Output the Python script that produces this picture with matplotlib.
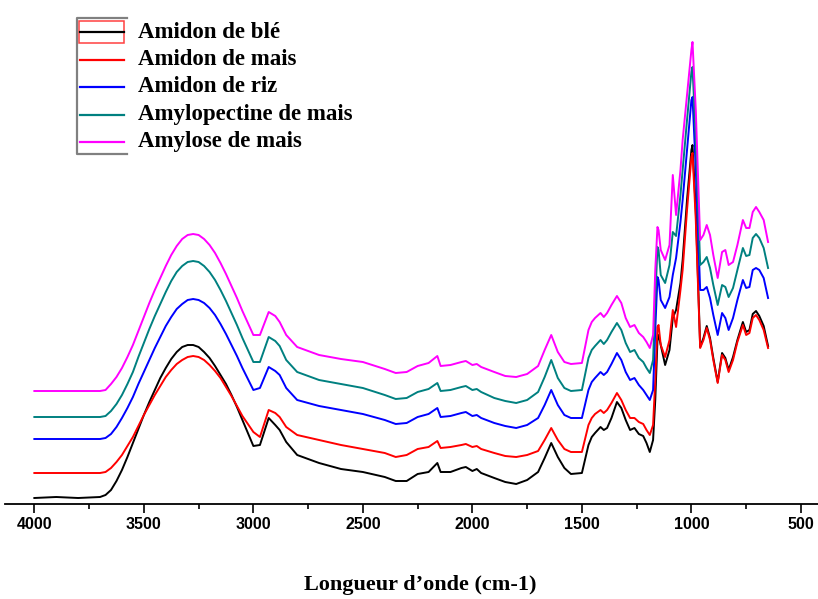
import numpy as np
import matplotlib
matplotlib.use("Agg")
import matplotlib.pyplot as plt
from matplotlib.lines import Line2D
from matplotlib.patches import Rectangle
from matplotlib.ticker import MultipleLocator

# nombre d'onde (cm-1), commun aux 5 spectres
wavenumber = [4000, 3900, 3800,
              3700, 3675, 3650, 3625, 3600, 3575, 3550, 3525, 3500, 3475,
              3450, 3425, 3400, 3375, 3350, 3325, 3300, 3275, 3250, 3225,
              3200, 3175, 3150, 3125, 3100, 3075, 3050, 3025, 3000,
              2970, 2930,
              2900, 2880, 2850, 2800, 2700, 2600, 2500, 2400, 2350, 2300,
              2250, 2200, 2160, 2145, 2100, 2050, 2030, 2000, 1980, 1960,
              1900, 1850, 1800, 1750, 1700, 1670, 1640, 1610, 1580, 1550,
              1500, 1470, 1455, 1440, 1415, 1400, 1385, 1365, 1340, 1320,
              1300, 1280, 1260, 1240, 1220, 1205, 1190, 1175, 1165, 1155,
              1150, 1140, 1120, 1100, 1085, 1070, 1050, 1040, 1020, 1000,
              995, 980, 960, 945, 930, 915, 900, 880, 860, 845,
              830, 810, 790, 765, 750, 735, 720, 705, 690, 670,
              650]

# intensites (u.a., spectres decales verticalement)
ble = [6, 7, 6,
       7, 9, 14, 23, 34, 47, 61, 75, 89, 102,
       114, 126, 136, 145, 152, 157, 159, 159, 157, 152,
       146, 138, 129, 120, 109, 97, 84, 71, 58,
       59, 86,
       79, 74, 62, 49, 41, 35, 32, 27, 23, 23,
       30, 32, 41, 32, 32, 36, 37, 33, 35, 31,
       26, 22, 20, 24, 32, 46, 61, 47, 36, 30,
       31, 59, 67, 71, 77, 74, 76, 86, 102, 96,
       84, 74, 76, 70, 68, 61, 52, 64, 104, 164,
       169, 159, 139, 154, 186, 194, 221, 244, 304, 354,
       359, 294, 157, 166, 178, 166, 146, 122, 151, 146,
       134, 147, 164, 182, 172, 174, 190, 193, 188, 178,
       158]

mais = [31, 31, 31,
        31, 32, 36, 42, 49, 58, 67, 78, 89, 99,
        109, 118, 127, 134, 140, 144, 147, 148, 147, 144,
        139, 133, 126, 117, 108, 98, 88, 80, 72,
        67, 94,
        91, 87, 77, 69, 64, 59, 55, 51, 47, 49,
        55, 57, 63, 56, 57, 59, 60, 57, 58, 55,
        51, 48, 47, 49, 53, 64, 76, 64, 55, 52,
        52, 79, 86, 90, 94, 91, 94, 101, 111, 104,
        94, 86, 86, 82, 80, 74, 69, 79, 124, 177,
        179, 159, 147, 164, 194, 177, 214, 234, 294, 347,
        351, 284, 156, 164, 176, 164, 144, 121, 149, 144,
        132, 144, 162, 179, 169, 171, 186, 189, 184, 174,
        156]

riz = [65, 65, 65,
       65, 66, 70, 77, 86, 96, 107, 120, 132, 144,
       156, 167, 178, 187, 195, 200, 204, 205, 204, 201,
       196, 189, 180, 170, 159, 148, 136, 125, 114,
       116, 137,
       133, 129, 116, 104, 98, 94, 90, 84, 80, 81,
       87, 90, 96, 87, 88, 91, 92, 88, 89, 86,
       81, 78, 76, 79, 86, 99, 114, 99, 89, 86,
       86, 114, 122, 126, 132, 129, 132, 140, 151, 144,
       132, 124, 126, 119, 114, 109, 104, 114, 174, 227,
       224, 204, 196, 207, 229, 246, 282, 304, 354, 404,
       407, 334, 214, 214, 217, 206, 189, 169, 191, 186,
       174, 186, 204, 224, 216, 217, 234, 236, 234, 226,
       206]

amylopectine = [87, 87, 87,
                87, 88, 93, 100, 109, 120, 132, 147, 161, 175,
                188, 200, 212, 223, 232, 238, 242, 243, 242, 238,
                232, 224, 214, 203, 191, 179, 166, 154, 142,
                142, 167,
                163, 158, 144, 132, 124, 120, 116, 109, 105, 106,
                112, 115, 121, 113, 114, 117, 118, 114, 115, 112,
                106, 103, 101, 104, 112, 127, 144, 126, 116, 113,
                114, 146, 154, 158, 164, 160, 164, 172, 181, 174,
                161, 152, 154, 146, 142, 136, 131, 144, 204, 257,
                254, 229, 221, 239, 272, 268, 309, 334, 384, 432,
                437, 364, 239, 242, 247, 236, 219, 199, 219, 217,
                207, 216, 234, 256, 248, 249, 266, 270, 266, 256,
                236]

amylose = [113, 113, 113,
           113, 114, 120, 127, 136, 147, 159, 173, 187, 201,
           214, 226, 238, 249, 258, 265, 269, 270, 269, 265,
           259, 251, 241, 230, 218, 206, 193, 181, 169,
           169, 192,
           188, 182, 169, 157, 149, 145, 142, 135, 131, 132,
           138, 141, 148, 138, 139, 142, 143, 139, 140, 137,
           132, 128, 127, 130, 138, 154, 169, 152, 142, 140,
           141, 174, 182, 186, 191, 187, 191, 199, 208, 201,
           186, 177, 179, 171, 167, 162, 156, 169, 234, 277,
           274, 254, 244, 259, 329, 289, 334, 364, 409, 454,
           462, 394, 264, 269, 279, 269, 249, 226, 252, 254,
           239, 242, 259, 284, 276, 276, 292, 297, 292, 284,
           262]

labels = ["Amidon de blé", "Amidon de mais", "Amidon de riz",
          "Amylopectine de mais", "Amylose de mais"]
colors = ["black", "#ff0000", "#0000ff", "#008080", "#ff00ff"]
series = [ble, mais, riz, amylopectine, amylose]

W, H = 818, 599
fig = plt.figure(figsize=(W / 100, H / 100), dpi=100)
ax = fig.add_axes([5 / W, 1 - 504 / H, 813 / W, 494 / H])

for y, c in zip(series, colors):
    ax.plot(wavenumber, y, color=c, lw=1.4, solid_joinstyle="round")

ax.set_xlim(4134, 422)
ax.set_ylim(0, 494)
ax.xaxis.set_major_locator(MultipleLocator(500))
ax.xaxis.set_minor_locator(MultipleLocator(250))
ax.set_yticks([])
for s in ["top", "left", "right"]:
    ax.spines[s].set_visible(False)
ax.spines["bottom"].set_linewidth(1.3)
ax.tick_params(axis="x", which="major", direction="out", length=6.5, width=1.2, pad=3)
ax.tick_params(axis="x", which="minor", direction="out", length=3.5, width=1.2)
for lab in ax.get_xticklabels():
    lab.set_family(["Liberation Sans Narrow", "Liberation Sans"])
    lab.set_fontweight("bold")
    lab.set_fontsize(11.5)

fig.text(420 / W, 1 - 585 / H, "Longueur d\u2019onde (cm-1)", ha="center", va="center",
         family="Liberation Serif", fontweight="bold", fontsize=16)

# legende dessinee a la main (style Origin)
def fx(px):
    return px / W

def fy(py):
    return 1 - py / H

fig.add_artist(Line2D([fx(127), fx(77), fx(77), fx(127)], [fy(18), fy(18), fy(154), fy(154)],
                      color="#808080", lw=1.6))
fig.add_artist(Rectangle((fx(79), fy(43)), fx(124) - fx(79), fy(21) - fy(43),
                         facecolor="white", edgecolor="#ff4040", lw=1.1))
for i, (lab, c) in enumerate(zip(labels, colors)):
    yy = 32 + 27.5 * i
    fig.add_artist(Line2D([fx(80), fx(124)], [fy(yy), fy(yy)], color=c, lw=1.6))
    fig.text(fx(138), fy(yy), lab, ha="left", va="center", family="Liberation Serif",
             fontweight="bold", fontsize=16.5)

fig.savefig("out.png", dpi=100)
